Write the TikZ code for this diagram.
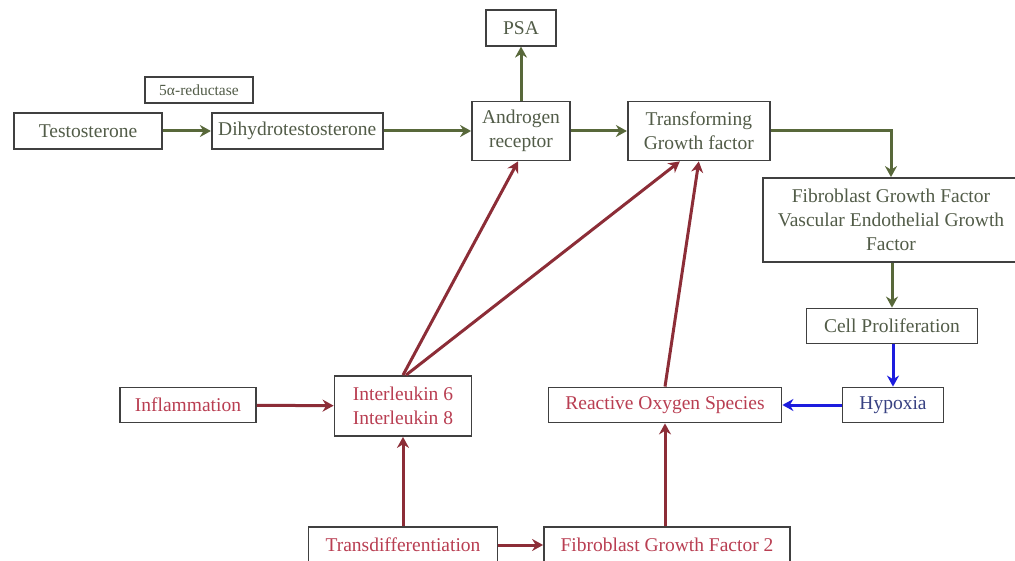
\documentclass[tikz,border=0pt]{standalone}
\usepackage{fontspec}
\setmainfont{Liberation Serif}
\usetikzlibrary{positioning, arrows.meta, calc}
\definecolor{oliveg}{RGB}{88,104,58}
\definecolor{olivet}{RGB}{82,92,72}
\definecolor{darkr}{RGB}{140,45,55}
\definecolor{redt}{RGB}{185,62,82}
\definecolor{bluel}{RGB}{28,28,222}
\definecolor{bluet}{RGB}{55,65,130}

\begin{document}
\begin{tikzpicture}
[x=1pt, y=1pt,
   box/.style={shape=rectangle, draw=black!75, line width=1.8pt, fill=white,
     inner sep=2pt, align=center, font=\fontsize{19.5}{24}\selectfont},
   gbox/.style={box, text=olivet},
   rbox/.style={box, text=redt},
   gA/.style={draw=oliveg, line width=3pt, arrows={-Stealth[length=11pt,width=12pt]}},
   rA/.style={draw=darkr, line width=3pt, arrows={-Stealth[length=11pt,width=12pt]}},
   bA/.style={draw=bluel, line width=3pt, arrows={-Stealth[length=11pt,width=12pt]}}]
\useasboundingbox (0,0) rectangle (1015,-561);
% top row
\node[gbox, minimum width=148, minimum height=36] (T) at (88,-131) {Testosterone};
\node[gbox, minimum width=171, minimum height=36] (DHT) [right=48pt of T] {Dihydrotestosterone};
\node[gbox, minimum width=108, minimum height=26, font=\fontsize{15.5}{18}\selectfont] (Red) at (199,-90) {5α-reductase};
\node[gbox, minimum width=98, minimum height=59] (AR) at (521,-131) {Androgen\\receptor};
\node[gbox, minimum width=70, minimum height=36] (PSA) [above=54pt of AR] {PSA};
\node[gbox, minimum width=142, minimum height=59] (TGF) [right=56pt of AR] {Transforming\\Growth factor};
% right column
\node[gbox, minimum width=256, minimum height=84] (FGF) at (891,-220)
  {Fibroblast Growth Factor\\Vascular Endothelial Growth\\Factor};
\node[gbox, minimum width=171, minimum height=35] (CP) at (892,-326) {Cell Proliferation};
\node[box, text=bluet, minimum width=101, minimum height=35] (Hyp) at (893,-405) {Hypoxia};
% lower part
\node[rbox, minimum width=233, minimum height=35] (ROS) at (665,-405) {Reactive Oxygen Species};
\node[rbox, minimum width=137, minimum height=60] (IL) at (403,-406) {Interleukin 6\\Interleukin 8};
\node[rbox, minimum width=136, minimum height=35] (Infl) at (188,-405) {Inflammation};
\node[rbox, minimum width=189, minimum height=36] (Trans) at (403,-545) {Transdifferentiation};
\node[rbox, minimum width=246, minimum height=36] (FGF2) at (667,-545) {Fibroblast Growth Factor 2};

\draw [gA] (T) to (DHT);
\draw [gA] (DHT) to (AR);
\draw [gA] (AR) to (AR |- PSA.south);
\draw [gA] (AR) to (TGF);
\draw [gA] (TGF) -| (FGF);
\draw [gA] (FGF.south -| CP) to (CP);
\draw [bA] (CP.south -| Hyp) to (Hyp);
\draw [bA] (Hyp) to (ROS);
\draw [rA] (Infl) to (IL);
\draw [rA] (Trans) to (IL);
\draw [rA] (Trans) to (FGF2);
\draw [rA] (FGF2.north -| ROS) to (ROS);
\draw [rA] (IL.north) to ([xshift=-3pt]AR.south);
\draw [rA] ([xshift=3pt]IL.north) to ([xshift=-19pt]TGF.south);
\draw [rA] (ROS.north) to (TGF.south);
\end{tikzpicture}
\end{document}
